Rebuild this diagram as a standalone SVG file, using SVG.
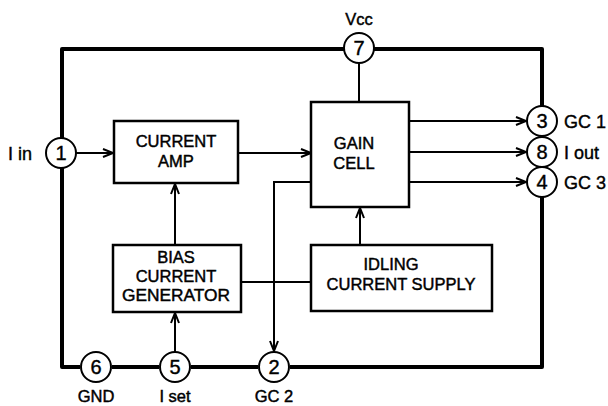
<svg xmlns="http://www.w3.org/2000/svg" width="608" height="406" viewBox="0 0 608 406">
<defs>
<marker id="arr" markerUnits="userSpaceOnUse" markerWidth="14" markerHeight="12" refX="11" refY="5" orient="auto" viewBox="0 0 14 10">
<path d="M1,1 L11,5 L1,9" fill="none" stroke="#000" stroke-width="2"/>
</marker>
<style>
.t{font-family:"Liberation Sans",Arial,sans-serif;font-size:16.5px;fill:#000;stroke:#000;stroke-width:0.45;text-anchor:middle}
.n{font-family:"Liberation Sans",Arial,sans-serif;font-size:20px;fill:#000;stroke:#000;stroke-width:0.4;text-anchor:middle}
.lbl{font-family:"Liberation Sans",Arial,sans-serif;font-size:18px;fill:#000;stroke:#000;stroke-width:0.4}
.box{fill:#fff;stroke:#000;stroke-width:2.5}
.pin{fill:#fff;stroke:#000;stroke-width:2}
.frame{fill:none;stroke:#000;stroke-width:4;stroke-linejoin:round}
.c{fill:none;stroke:#000;stroke-width:2}
</style>
</defs>
<rect width="608" height="406" fill="#fff"/>
<g id="frame">
<path class="frame" d="M62,138 L62,49 L344,49 M374,49 L542,49 L542,106 M542,197 L542,367 L290,367 M258,367 L191,367 M159,367 L112,367 M80,367 L62,367 L62,168"/>
</g>
<g id="connectors">
<line class="c" x1="359" y1="63" x2="359" y2="102"/>
<line class="c" x1="76" y1="153" x2="113" y2="153" marker-end="url(#arr)"/>
<line class="c" x1="239" y1="153" x2="311" y2="153" marker-end="url(#arr)"/>
<line class="c" x1="410" y1="121" x2="526" y2="121" marker-end="url(#arr)"/>
<line class="c" x1="410" y1="152" x2="526" y2="152" marker-end="url(#arr)"/>
<line class="c" x1="410" y1="182" x2="526" y2="182" marker-end="url(#arr)"/>
<line class="c" x1="175" y1="245" x2="175" y2="184" marker-end="url(#arr)"/>
<line class="c" x1="175" y1="352" x2="175" y2="313" marker-end="url(#arr)"/>
<line class="c" x1="360" y1="245" x2="360" y2="208" marker-end="url(#arr)"/>
<line class="c" x1="241" y1="282" x2="312" y2="282"/>
<path class="c" d="M312,182 L274,182 L274,351" marker-end="url(#arr)"/>
</g>
<g id="current-amp">
<rect class="box" x="114" y="121" width="124" height="62"/>
<text class="t" x="176" y="147">CURRENT</text>
<text class="t" x="176" y="167">AMP</text>
</g>
<g id="gain-cell">
<rect class="box" x="311" y="102" width="98" height="105"/>
<text class="t" x="354" y="149">GAIN</text>
<text class="t" x="354" y="169">CELL</text>
</g>
<g id="bias-current-generator">
<rect class="box" x="113" y="245" width="128" height="67"/>
<text class="t" x="176" y="263">BIAS</text>
<text class="t" x="176" y="282">CURRENT</text>
<text class="t" x="176" y="301" textLength="108" lengthAdjust="spacingAndGlyphs">GENERATOR</text>
</g>
<g id="idling-current-supply">
<rect class="box" x="311" y="245" width="181" height="66"/>
<text class="t" x="391" y="270">IDLING</text>
<text class="t" x="401" y="290">CURRENT SUPPLY</text>
</g>
<g id="pin1">
<circle class="pin" cx="61" cy="153" r="15"/>
<text class="n" x="61" y="160">1</text>
<text class="lbl" x="8" y="160">I in</text>
</g>
<g id="pin7">
<circle class="pin" cx="359" cy="48" r="15"/>
<text class="n" x="359" y="55">7</text>
<text class="t" x="359" y="25">Vcc</text>
</g>
<g id="pin3">
<circle class="pin" cx="542" cy="121" r="15"/>
<text class="n" x="542" y="128">3</text>
<text class="lbl" x="564" y="128">GC 1</text>
</g>
<g id="pin8">
<circle class="pin" cx="542" cy="152" r="15"/>
<text class="n" x="542" y="159">8</text>
<text class="lbl" x="564" y="159">I out</text>
</g>
<g id="pin4">
<circle class="pin" cx="542" cy="182" r="15"/>
<text class="n" x="542" y="189">4</text>
<text class="lbl" x="564" y="189">GC 3</text>
</g>
<g id="pin6">
<circle class="pin" cx="96" cy="367" r="15"/>
<text class="n" x="96" y="374">6</text>
<text class="t" x="96" y="402">GND</text>
</g>
<g id="pin5">
<circle class="pin" cx="175" cy="367" r="15"/>
<text class="n" x="175" y="374">5</text>
<text class="t" x="175" y="402">I set</text>
</g>
<g id="pin2">
<circle class="pin" cx="274" cy="367" r="15"/>
<text class="n" x="274" y="374">2</text>
<text class="t" x="274" y="402">GC 2</text>
</g>
</svg>
